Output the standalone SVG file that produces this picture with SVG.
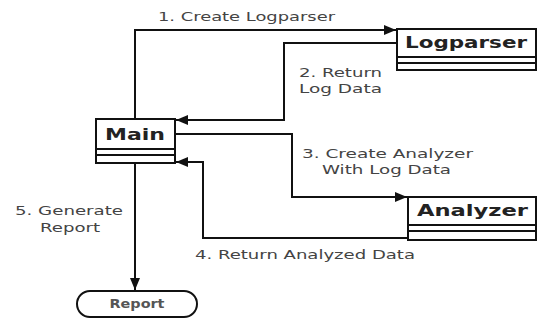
<svg xmlns="http://www.w3.org/2000/svg" width="538" height="324" viewBox="0 0 538 324">
<style>
.box{fill:#fff;stroke:#111;stroke-width:2}
.sep{stroke:#111;stroke-width:2}
.title{font-family:"DejaVu Sans",sans-serif;font-weight:bold;font-size:16px;fill:#222}
.lbl{font-family:"DejaVu Sans",sans-serif;font-size:12px;fill:#444}
.conn{fill:none;stroke:#111;stroke-width:2}
</style>
<defs>
<marker id="ah" viewBox="0 0 12 10" refX="12" refY="5" markerWidth="12" markerHeight="10" markerUnits="userSpaceOnUse" orient="auto">
<path d="M0,0 L12,5 L0,10 Z" fill="#111"/>
</marker>
</defs>
<rect width="538" height="324" fill="#fff"/>
<g id="connectors">
<path class="conn" d="M135,119 V30 H396" marker-end="url(#ah)"/>
<path class="conn" d="M397,43 H284 V120 H176" marker-end="url(#ah)"/>
<path class="conn" d="M175,134 H292 V197 H407" marker-end="url(#ah)"/>
<path class="conn" d="M408,238 H203 V162 H176" marker-end="url(#ah)"/>
<path class="conn" d="M135,163 V290" marker-end="url(#ah)"/>
<text class="lbl" x="158" y="21" textLength="177" lengthAdjust="spacingAndGlyphs">1. Create Logparser</text>
<text class="lbl" x="299" y="77" textLength="83" lengthAdjust="spacingAndGlyphs">2. Return</text>
<text class="lbl" x="299" y="93" textLength="83" lengthAdjust="spacingAndGlyphs">Log Data</text>
<text class="lbl" x="302" y="158" textLength="171" lengthAdjust="spacingAndGlyphs">3. Create Analyzer</text>
<text class="lbl" x="322" y="174" textLength="129" lengthAdjust="spacingAndGlyphs">With Log Data</text>
<text class="lbl" x="195" y="259" textLength="220" lengthAdjust="spacingAndGlyphs">4. Return Analyzed Data</text>
<text class="lbl" x="15" y="215" textLength="108" lengthAdjust="spacingAndGlyphs">5. Generate</text>
<text class="lbl" x="40" y="232" textLength="60" lengthAdjust="spacingAndGlyphs">Report</text>
</g>
<g id="logparser">
<rect class="box" x="397" y="29" width="139" height="41"/>
<line class="sep" x1="397" y1="57" x2="536" y2="57"/>
<line class="sep" x1="397" y1="63" x2="536" y2="63"/>
<text class="title" x="405" y="48" textLength="122" lengthAdjust="spacingAndGlyphs">Logparser</text>
</g>
<g id="main">
<rect class="box" x="96" y="119" width="79" height="44"/>
<line class="sep" x1="96" y1="149" x2="175" y2="149"/>
<line class="sep" x1="96" y1="155" x2="175" y2="155"/>
<text class="title" x="105" y="140" textLength="60" lengthAdjust="spacingAndGlyphs">Main</text>
</g>
<g id="analyzer">
<rect class="box" x="408" y="197" width="128" height="43"/>
<line class="sep" x1="408" y1="225" x2="536" y2="225"/>
<line class="sep" x1="408" y1="231" x2="536" y2="231"/>
<text class="title" x="417" y="216" textLength="111" lengthAdjust="spacingAndGlyphs">Analyzer</text>
</g>
<g id="report">
<rect class="box" x="77" y="291" width="120" height="26" rx="13"/>
<text class="lbl" x="137" y="308" text-anchor="middle" textLength="55" lengthAdjust="spacingAndGlyphs" style="fill:#555;font-weight:bold">Report</text>
</g>
</svg>
